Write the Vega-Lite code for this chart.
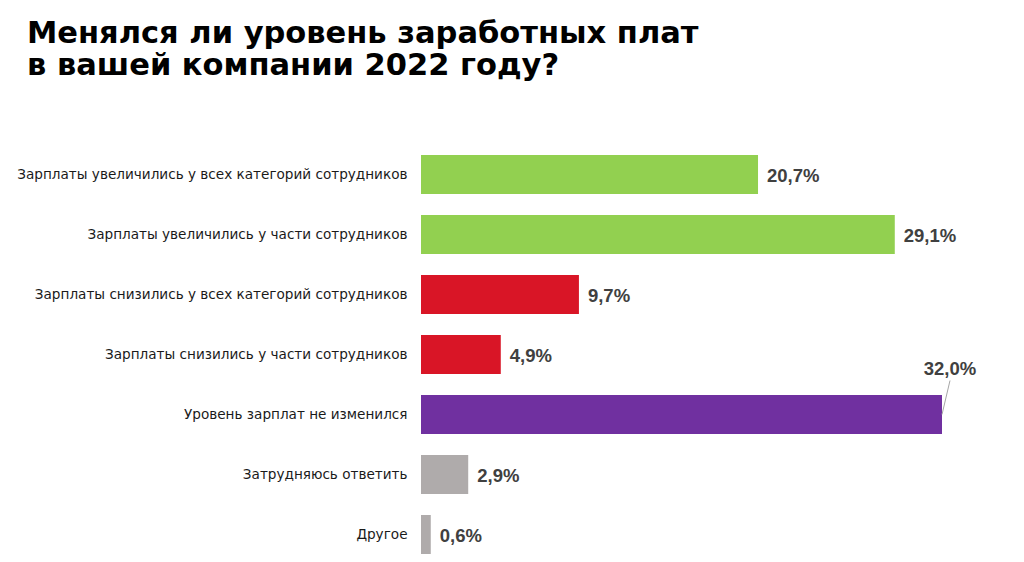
{
  "$schema": "https://vega.github.io/schema/vega-lite/v6.json",
  "autosize": {"type": "none"},
  "padding": {"left": 421, "top": 149, "right": 82, "bottom": 2},
  "width": 521,
  "height": 411,
  "background": "white",
  "view": {"stroke": null},
  "title": {
    "text": ["Менялся ли уровень заработных плат", "в вашей компании 2022 году?"],
    "anchor": "start",
    "frame": "group",
    "dx": -394,
    "offset": 68,
    "font": "DejaVu Sans",
    "fontSize": 30.5,
    "fontWeight": "bold",
    "color": "#000000",
    "lineHeight": 32
  },
  "data": {
    "values": [
      {"cat": "Зарплаты увеличились у всех категорий сотрудников", "value": 20.7, "label": "20,7%", "grp": "up"},
      {"cat": "Зарплаты увеличились у части сотрудников", "value": 29.1, "label": "29,1%", "grp": "up"},
      {"cat": "Зарплаты снизились у всех категорий сотрудников", "value": 9.7, "label": "9,7%", "grp": "down"},
      {"cat": "Зарплаты снизились у части сотрудников", "value": 4.9, "label": "4,9%", "grp": "down"},
      {"cat": "Уровень зарплат не изменился", "value": 32.0, "label": "32,0%", "grp": "same"},
      {"cat": "Затрудняюсь ответить", "value": 2.9, "label": "2,9%", "grp": "other"},
      {"cat": "Другое", "value": 0.6, "label": "0,6%", "grp": "other"}
    ]
  },
  "encoding": {
    "y": {
      "field": "cat",
      "type": "nominal",
      "sort": null,
      "scale": {"paddingInner": 0.35, "paddingOuter": 0.1},
      "axis": {
        "title": null,
        "ticks": false,
        "domain": false,
        "labelPadding": 14,
        "labelFont": "DejaVu Sans",
        "labelFontSize": 13.6,
        "labelColor": "#1a1a1a",
        "labelLimit": 420
      }
    },
    "x": {
      "field": "value",
      "type": "quantitative",
      "scale": {"domain": [0, 32], "nice": false},
      "axis": null
    }
  },
  "layer": [
    {
      "mark": {"type": "bar"},
      "encoding": {
        "color": {
          "field": "grp",
          "type": "nominal",
          "scale": {"domain": ["up", "down", "same", "other"], "range": ["#92D050", "#D91526", "#7030A0", "#AFABAB"]},
          "legend": null
        }
      }
    },
    {
      "transform": [{"filter": "datum.value < 31"}],
      "mark": {"type": "text", "align": "left", "baseline": "middle", "dx": 9, "dy": 1, "font": "Liberation Sans", "fontSize": 18.5, "fontWeight": "bold", "color": "#404040"},
      "encoding": {"text": {"field": "label"}}
    },
    {
      "transform": [{"filter": "datum.value >= 31"}],
      "mark": {"type": "text", "align": "center", "baseline": "middle", "dx": 8, "dy": -46, "font": "Liberation Sans", "fontSize": 18.5, "fontWeight": "bold", "color": "#404040"},
      "encoding": {"text": {"field": "label"}}
    },
    {
      "transform": [{"filter": "datum.value >= 31"}],
      "mark": {"type": "rule", "color": "#A6A6A6", "strokeWidth": 1, "x2Offset": 8, "yOffset": 0, "y2Offset": -34},
      "encoding": {
        "x2": {"field": "value"},
        "y2": {"field": "cat"}
      }
    }
  ]
}
